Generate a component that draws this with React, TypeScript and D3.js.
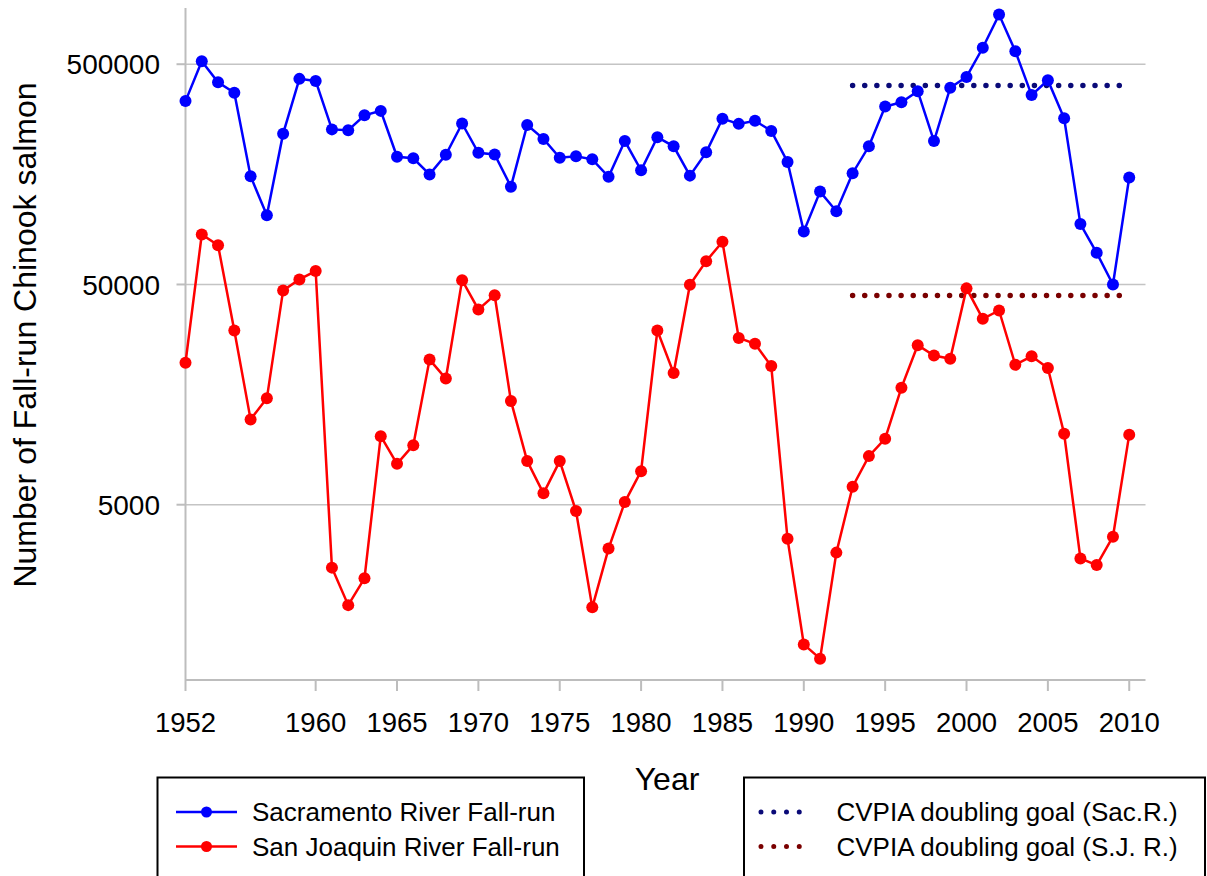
/*
Fall-run Chinook salmon escapement, log scale. D3 does the math, React draws the SVG.
*/
import * as d3 from "d3";

const years = d3.range(1952, 2011);

const sacramento = [
  340000, 516000, 414000, 371000, 155000, 103000, 242000, 429000, 420000, 253000,
  251000, 293000, 307000, 190000, 187000, 158000, 194000, 269000, 198000, 194500,
  139000, 265000, 229000, 188000, 191000, 185000, 154000, 224000, 165000, 233000,
  212000, 156000, 199000, 283000, 268000, 277000, 249000, 180000, 87000, 132000,
  107500, 160000, 212000, 321000, 336000, 377000, 224000, 391000, 438000, 594000,
  840000, 573000, 362000, 423000, 284000, 94000, 69600, 50000, 153000,
];

const sanJoaquin = [
  22060, 84300, 75400, 30900, 12200, 15200, 47000, 52700, 57500, 2590,
  1750, 2315, 10240, 7670, 9320, 22800, 18700, 52300, 38500, 44700,
  14800, 7890, 5630, 7890, 4680, 1710, 3160, 5140, 7100, 30900,
  19800, 49800, 63800, 78100, 28600, 26900, 21300, 3500, 1160, 1000,
  3030, 6040, 8310, 9970, 17000, 26500, 23800, 23000, 48000, 34900,
  38100, 21600, 23600, 20900, 10500, 2850, 2660, 3580, 10400,
];

// CVPIA doubling goals (start year, end year)
const goalYears = [1993, 2010];
const sacGoal = 400000;
const sjGoal = 44500;

const xTicks = [1952, 1960, 1965, 1970, 1975, 1980, 1985, 1990, 1995, 2000, 2005, 2010];
const yTicks = [5000, 50000, 500000];

const seriesLabels = ["Sacramento River Fall-run", "San Joaquin River Fall-run"];
const goalLabels = ["CVPIA doubling goal (Sac.R.)", "CVPIA doubling goal (S.J. R.)"];

export default function App() {
  const width = 1207;
  const height = 876;
  const plot = { left: 185.5, right: 1145.5, top: 8, bottom: 680 };
  const font = "'Liberation Sans', Arial, sans-serif";

  const x = d3.scaleLinear().domain([1952, 2011]).range([plot.left, plot.right]);
  const y = d3.scaleLog().domain([800, 900000]).range([plot.bottom, plot.top]);

  const line = d3
    .line<number>()
    .x((_, i) => x(years[i]))
    .y((d) => y(d));

  const series = [
    { values: sacramento, color: "#0000ff" },
    { values: sanJoaquin, color: "#ff0000" },
  ];
  const goals = [
    { value: sacGoal, color: "#0a0a78" },
    { value: sjGoal, color: "#7a0000" },
  ];

  return (
    <svg
      width={width}
      height={height}
      style={{ position: "absolute", left: 0, top: 0, background: "#fff" }}
      fontFamily={font}
    >
      {/* gridlines */}
      {yTicks.map((t) => (
        <line key={t} x1={plot.left} x2={plot.right} y1={y(t)} y2={y(t)} stroke="#c4c4c4" strokeWidth={1.5} />
      ))}

      {/* axes */}
      <line x1={plot.left} x2={plot.left} y1={plot.top} y2={plot.bottom} stroke="#bdbdbd" strokeWidth={2} />
      <line x1={plot.left} x2={plot.right} y1={plot.bottom} y2={plot.bottom} stroke="#bdbdbd" strokeWidth={2} />
      {yTicks.map((t) => (
        <g key={t}>
          <line x1={plot.left - 9} x2={plot.left} y1={y(t)} y2={y(t)} stroke="#bdbdbd" strokeWidth={2} />
          <text x={160} y={y(t)} dy="0.36em" textAnchor="end" fontSize={28} fill="#000">
            {t}
          </text>
        </g>
      ))}
      {xTicks.map((t) => (
        <g key={t}>
          <line x1={x(t)} x2={x(t)} y1={plot.bottom} y2={plot.bottom + 11} stroke="#bdbdbd" strokeWidth={2} />
          <text x={x(t)} y={731.5} textAnchor="middle" fontSize={27.5} fill="#000">
            {t}
          </text>
        </g>
      ))}

      {/* axis titles */}
      <text x={667} y={790} textAnchor="middle" fontSize={32}>
        Year
      </text>
      <text transform="translate(36,335) rotate(-90)" textAnchor="middle" fontSize={32}>
        Number of Fall-run Chinook salmon
      </text>

      {/* goal lines */}
      {goals.map((g, i) => (
        <line
          key={i}
          x1={x(goalYears[0])}
          x2={x(goalYears[1])}
          y1={y(g.value)}
          y2={y(g.value)}
          stroke={g.color}
          strokeWidth={5.5}
          strokeLinecap="round"
          strokeDasharray="0 12.12"
        />
      ))}

      {/* series */}
      {series.map((s, i) => (
        <g key={i}>
          <path d={line(s.values) ?? ""} fill="none" stroke={s.color} strokeWidth={2.5} />
          {s.values.map((v, j) => (
            <circle key={j} cx={x(years[j])} cy={y(v)} r={6} fill={s.color} />
          ))}
        </g>
      ))}

      {/* legend: series */}
      <rect x={157.5} y={777.5} width={426.5} height={110} fill="#fff" stroke="#000" strokeWidth={2} />
      {seriesLabels.map((label, i) => {
        const ly = 812 + i * 34.5;
        return (
          <g key={label}>
            <line x1={176} x2={237} y1={ly} y2={ly} stroke={series[i].color} strokeWidth={2.5} />
            <circle cx={206.5} cy={ly} r={5.5} fill={series[i].color} />
            <text x={252} y={ly} dy="0.36em" fontSize={26}>
              {label}
            </text>
          </g>
        );
      })}

      {/* legend: goals */}
      <rect x={744} y={777.5} width={461} height={110} fill="#fff" stroke="#000" strokeWidth={2} />
      {goalLabels.map((label, i) => {
        const ly = 812 + i * 34.5;
        return (
          <g key={label}>
            <line
              x1={761}
              x2={812}
              y1={ly}
              y2={ly}
              stroke={goals[i].color}
              strokeWidth={5}
              strokeLinecap="round"
              strokeDasharray="0 12.75"
            />
            <text x={836.5} y={ly} dy="0.36em" fontSize={26}>
              {label}
            </text>
          </g>
        );
      })}
    </svg>
  );
}
